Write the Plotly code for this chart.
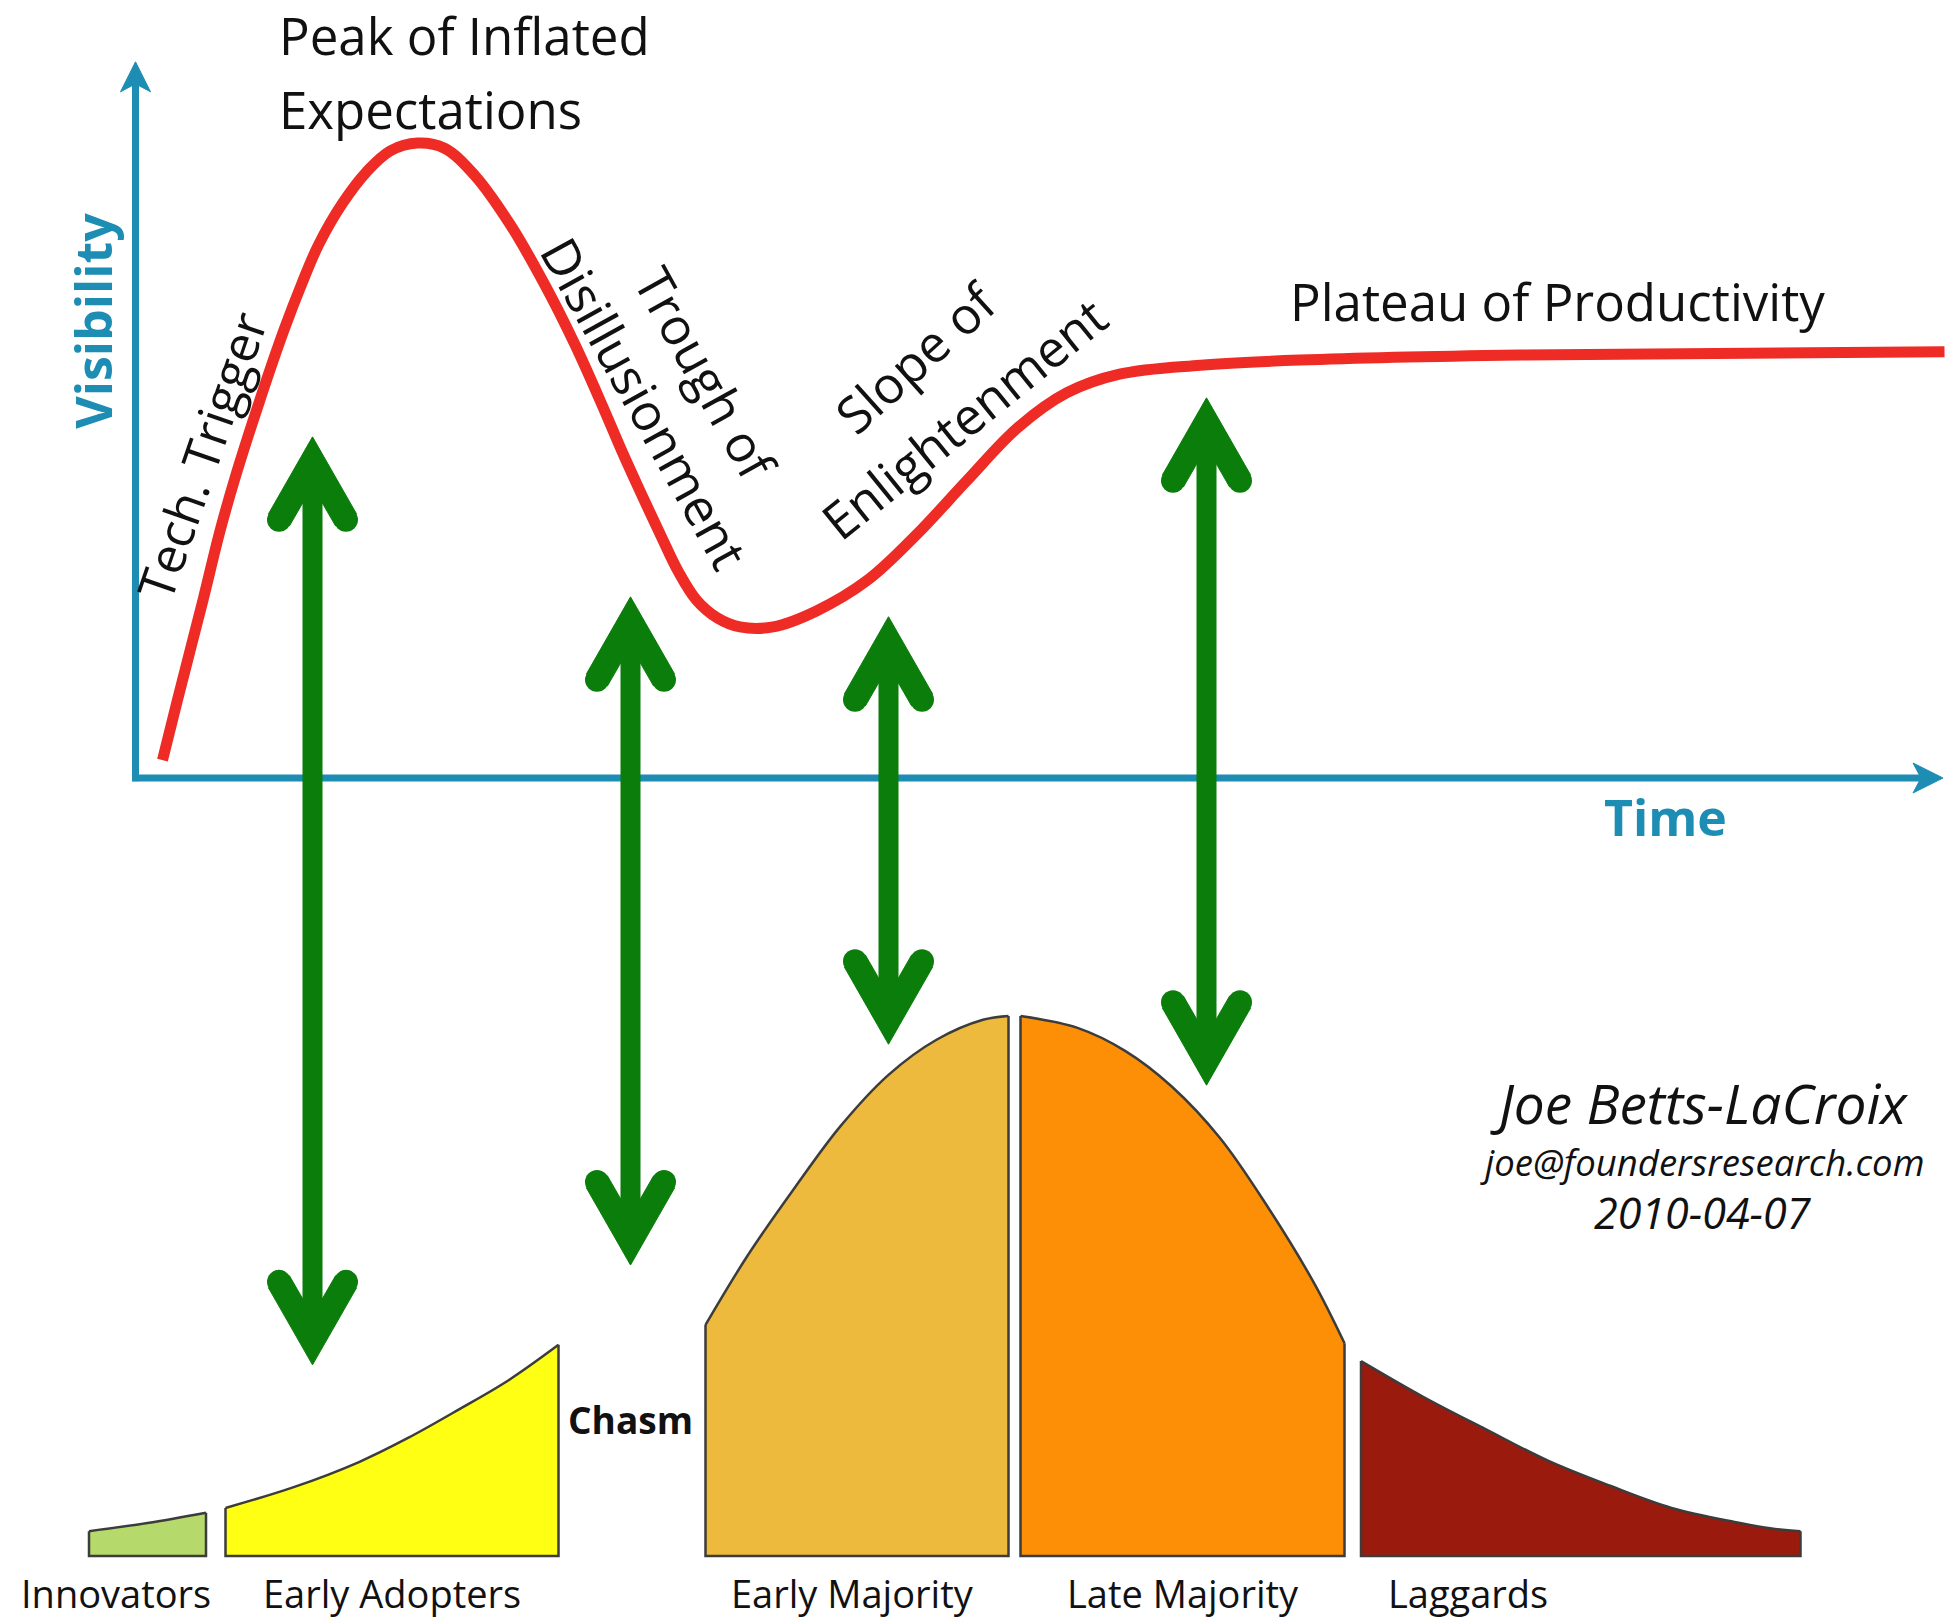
import plotly.graph_objects as go

W, H = 1949, 1621

# ---------------- data ----------------
# Hype cycle: time vs visibility
hype_time = [1.9, 2.9, 4.6, 5.7, 6.7, 8.4, 10.0, 11.2, 12.3, 13.9, 15.5, 17.1, 18.9, 20.7,
             22.7, 25.1, 27.4, 29.4, 31.2, 32.5, 33.7, 35.1, 36.3, 37.5, 38.9, 40.4, 42.6,
             45.5, 48.9, 52.2, 55.5, 58.9, 62.2, 65.7, 71.1, 77.7, 92.4, 120.7]
hype_visibility = [2.8, 12.2, 27.8, 38.3, 46.6, 59.1, 70.0, 77.3, 83.3, 89.8, 94.7, 98.0, 99.2, 98.4,
                   94.2, 86.4, 77.0, 67.7, 58.3, 51.2, 45.0, 38.0, 32.2, 27.8, 25.0, 23.6, 23.6,
                   26.1, 30.9, 38.1, 46.4, 54.7, 60.2, 63.1, 64.5, 65.3, 66.1, 66.6]

# Green double arrows linking the hype phases to adopter groups
arrow_time = [11.9, 33.1, 50.3, 71.5]
arrow_top = [53.3, 28.3, 25.2, 59.4]
arrow_bottom = [-91.7, -76.1, -41.6, -48.0]

# Adoption curve segments (time vs share of adopters)
innovators_time = [-3.0, 0.9, 4.8]
innovators_share = [4.6, 6.1, 8.0]
early_adopters_time = [6.1, 10.6, 15.0, 18.3, 21.7, 25.0, 28.3]
early_adopters_share = [8.9, 12.7, 17.4, 21.9, 27.2, 32.6, 39.1]
early_majority_time = [38.1, 40.9, 44.0, 47.1, 50.3, 53.5, 56.6, 58.3]
early_majority_share = [42.8, 55.6, 68.0, 79.6, 89.1, 95.6, 99.3, 100.0]
late_majority_time = [59.1, 62.9, 66.1, 69.2, 72.4, 75.5, 78.7, 80.7]
late_majority_share = [100.0, 97.8, 93.5, 86.9, 77.4, 65.0, 50.4, 39.4]
laggards_time = [81.8, 86.0, 90.1, 94.3, 98.4, 102.5, 106.7, 109.4, 111.1]
laggards_share = [36.1, 29.4, 23.5, 17.6, 13.0, 8.9, 6.3, 5.0, 4.6]

segment_names = ["Innovators", "Early Adopters", "Early Majority", "Late Majority", "Laggards"]
segment_label_time = [-1.2, 17.2, 47.9, 69.9, 88.9]

phase_labels = ["Peak of Inflated", "Expectations", "Tech. Trigger", "Disillusionment",
                "Trough of", "Slope of", "Enlightenment", "Plateau of Productivity"]

# ---------------- scales ----------------
X_RANGE = [-8.933, 121.0]
Y_RANGE = [-131.72, 121.56]
Y2_RANGE = [-12.04, 288.15]
px_t = W / (X_RANGE[1] - X_RANGE[0])
px_v = H / (Y_RANGE[1] - Y_RANGE[0])

TEAL = "#1d8db4"
RED = "#ee2b24"
GREEN = "#0a7d0a"
OUTLINE = "#3c3c3c"
FONT = "Open Sans"

fig = go.Figure()

# ---- axes as arrows ----
y_axis_x = 0.1
y_axis_top = 111.9
x_axis_end = 120.6
fig.add_trace(go.Scatter(x=[y_axis_x, y_axis_x], y=[-0.5, y_axis_top - 20 / px_v], mode="lines",
                         line=dict(color=TEAL, width=7), hoverinfo="skip"))
fig.add_trace(go.Scatter(x=[y_axis_x - 0.23, x_axis_end - 20 / px_t], y=[0, 0], mode="lines",
                         line=dict(color=TEAL, width=7), hoverinfo="skip"))
head = [(0, 0), (15, 30), (0, 22), (-15, 30), (0, 0)]
fig.add_trace(go.Scatter(x=[y_axis_x + dx / px_t for dx, dy in head],
                         y=[y_axis_top - dy / px_v for dx, dy in head],
                         mode="lines", fill="toself", fillcolor=TEAL,
                         line=dict(color=TEAL, width=1), hoverinfo="skip"))
fig.add_trace(go.Scatter(x=[x_axis_end - dy / px_t for dx, dy in head],
                         y=[0 + dx / px_v for dx, dy in head],
                         mode="lines", fill="toself", fillcolor=TEAL,
                         line=dict(color=TEAL, width=1), hoverinfo="skip"))

# ---- hype curve ----
fig.add_trace(go.Scatter(x=hype_time, y=hype_visibility, mode="lines",
                         line=dict(color=RED, width=11, shape="spline", smoothing=1.0),
                         hoverinfo="skip"))

# ---- adoption segments (on y2) ----
segments = [
    (innovators_time, innovators_share, "#b5da6b"),
    (early_adopters_time, early_adopters_share, "#ffff14"),
    (early_majority_time, early_majority_share, "#edba3e"),
    (late_majority_time, late_majority_share, "#fc8f06"),
    (laggards_time, laggards_share, "#9a1b0e"),
]
for ts, ss, col in segments:
    fig.add_trace(go.Scatter(x=ts, y=ss, yaxis="y2", mode="lines", fill="tozeroy",
                             fillcolor=col, line=dict(color=OUTLINE, width=2.5, shape="spline", smoothing=1.0),
                             hoverinfo="skip"))
    fig.add_trace(go.Scatter(x=[ts[-1], ts[-1], ts[0], ts[0]], y=[ss[-1], 0, 0, ss[0]], yaxis="y2",
                             mode="lines", line=dict(color=OUTLINE, width=2.5), hoverinfo="skip"))

# ---- green double arrows ----
chev = [(0, 0), (44, 77), (23, 89), (0, 49), (-23, 89), (-44, 77), (0, 0)]
caps = [(33.5, 83), (-33.5, 83)]
for t, top, bot in zip(arrow_time, arrow_top, arrow_bottom):
    fig.add_trace(go.Scatter(x=[t, t], y=[top - 30 / px_v, bot + 30 / px_v], mode="lines",
                             line=dict(color=GREEN, width=20), hoverinfo="skip"))
    for tip, sgn in ((top, -1), (bot, 1)):
        fig.add_trace(go.Scatter(x=[t + dx / px_t for dx, dy in chev],
                                 y=[tip + sgn * dy / px_v for dx, dy in chev],
                                 mode="lines", fill="toself", fillcolor=GREEN,
                                 line=dict(color=GREEN, width=1), hoverinfo="skip"))
        fig.add_trace(go.Scatter(x=[t + dx / px_t for dx, dy in caps],
                                 y=[tip + sgn * dy / px_v for dx, dy in caps],
                                 mode="markers", marker=dict(color=GREEN, size=24, line=dict(width=0)),
                                 hoverinfo="skip"))

# ---- annotations ----
ann = []
def txt(text, x, y, size, angle=0, xanchor="center", color="#111111", yref="y"):
    ann.append(dict(text=text, x=x, y=y, xref="x", yref=yref, showarrow=False,
                    textangle=angle, xanchor=xanchor, yanchor="middle",
                    font=dict(family=FONT, size=size, color=color)))

txt(phase_labels[0], 9.5, 116.1, 51, xanchor="left")
txt(phase_labels[1], 9.5, 104.5, 51, xanchor="left")
txt(phase_labels[2], 4.5, 50.3, 50, angle=-71)
txt(phase_labels[3], 34.1, 58.6, 51, angle=61)
txt(phase_labels[4], 38.2, 63.2, 51, angle=61)
txt(phase_labels[5], 52.1, 65.8, 51, angle=-42)
txt(phase_labels[6], 55.3, 56.2, 51, angle=-39)
txt(phase_labels[7], 94.9, 74.5, 51)
txt("<b>Visibility</b>", -2.75, 71.4, 50, angle=-90, color=TEAL)
txt("<b>Time</b>", 102.1, -6.1, 50, color=TEAL)

for name, t in zip(segment_names, segment_label_time):
    txt(name, t, -6.8, 38, yref="y2")
txt("<b>Chasm</b>", 33.1, 25.2, 37, yref="y2")
txt("<i>Joe Betts-LaCroix</i>", 104.3, 83.9, 55, yref="y2")
txt("<i>joe@foundersresearch.com</i>", 104.5, 73.0, 36.5, yref="y2")
txt("<i>2010-04-07</i>", 104.6, 63.7, 43, yref="y2")

fig.update_layout(
    width=W, height=H, margin=dict(l=0, r=0, t=0, b=0),
    paper_bgcolor="white", plot_bgcolor="white", showlegend=False,
    xaxis=dict(range=X_RANGE, visible=False, fixedrange=True),
    yaxis=dict(range=Y_RANGE, visible=False, fixedrange=True),
    yaxis2=dict(range=Y2_RANGE, visible=False, overlaying="y", fixedrange=True),
    annotations=ann,
)

fig.write_html("out.html", config={"displayModeBar": False},
               post_script="document.body.style.margin='0';document.body.style.overflow='hidden';")
